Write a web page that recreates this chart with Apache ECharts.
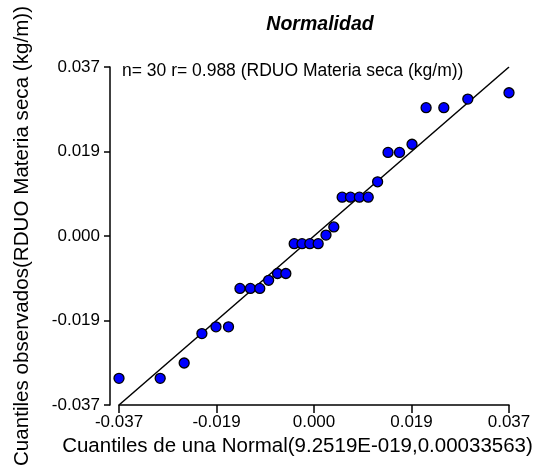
<!DOCTYPE html>
<html>
<head>
<meta charset="utf-8">
<script src="https://cdn.jsdelivr.net/npm/echarts@6/dist/echarts.min.js"></script>
<style>
  html, body { margin: 0; padding: 0; background: #fff; }
  #chart { width: 540px; height: 473px; }
</style>
</head>
<body>
<div id="chart"></div>
<script>
// Theoretical normal quantiles (x) and observed quantiles (y) of RDUO Materia seca
var theoretical = [-0.0374, -0.0295, -0.0249, -0.0215, -0.0188, -0.0164, -0.0142, -0.0122, -0.0104, -0.0087,
                   -0.0070, -0.0054, -0.0038, -0.0023, -0.0008, 0.0008, 0.0023, 0.0038, 0.0054, 0.0070,
                   0.0087, 0.0104, 0.0122, 0.0142, 0.0164, 0.0188, 0.0215, 0.0249, 0.0295, 0.0374];
var observed = [-0.0315, -0.0315, -0.0281, -0.0216, -0.0201, -0.0201, -0.0116, -0.0116, -0.0116, -0.0098,
                -0.0083, -0.0083, -0.0017, -0.0017, -0.0017, -0.0017, 0.0002, 0.0020, 0.0086, 0.0086,
                0.0086, 0.0086, 0.0120, 0.0185, 0.0185, 0.0203, 0.0284, 0.0284, 0.0303, 0.0317];
// Reference line y = x
var refLineX = [-0.0374, 0.0374];
var refLineY = [-0.0374, 0.0374];
// Axis range and tick labels
var axisMin = -0.0374, axisMax = 0.0374, axisStep = 0.0187;
var tickLabels = ['-0.037', '-0.019', '0.000', '0.019', '0.037'];

var font = 'Liberation Sans, Arial, sans-serif';
function tickFmt(v) {
  var i = Math.round((v - axisMin) / axisStep);
  return tickLabels[i] !== undefined ? tickLabels[i] : '';
}

var points = theoretical.map(function (x, i) { return [x, observed[i]]; });
var line = refLineX.map(function (x, i) { return [x, refLineY[i]]; });

var chart = echarts.init(document.getElementById('chart'), null, { renderer: 'canvas' });
chart.setOption({
  backgroundColor: '#ffffff',
  animation: false,
  title: [
    {
      text: 'Normalidad',
      left: 315, top: 10, textAlign: 'center',
      textStyle: { fontFamily: font, fontSize: 19.5, fontWeight: 'bold', fontStyle: 'italic', color: '#000' }
    },
    {
      text: 'n= 30 r= 0.988 (RDUO Materia seca (kg/m))',
      left: 117, top: 57,
      textStyle: { fontFamily: font, fontSize: 17.5, fontWeight: 'normal', color: '#000' }
    }
  ],
  grid: { left: 119, right: 31, top: 67, bottom: 68, containLabel: false },
  xAxis: {
    type: 'value',
    min: axisMin, max: axisMax, interval: axisStep,
    name: 'Cuantiles de una Normal(9.2519E-019,0.00033563)',
    nameLocation: 'middle', nameGap: 28,
    nameTextStyle: { fontFamily: font, fontSize: 20.5, color: '#000', padding: [0, 33, 0, 0] },
    axisLine: { show: true, onZero: false, lineStyle: { color: '#000', width: 1.5 } },
    axisTick: { show: true, length: 8, lineStyle: { color: '#000', width: 1.5 } },
    axisLabel: { formatter: tickFmt, fontFamily: font, fontSize: 17, color: '#000', margin: 9, showMinLabel: true, showMaxLabel: true },
    splitLine: { show: false }
  },
  yAxis: {
    type: 'value',
    min: axisMin, max: axisMax, interval: axisStep,
    offset: 9,
    name: 'Cuantiles observados(RDUO Materia seca (kg/m))',
    nameLocation: 'middle', nameGap: 77,
    nameTextStyle: { fontFamily: font, fontSize: 20.6, color: '#000' },
    axisLine: { show: true, onZero: false, lineStyle: { color: '#000', width: 1.5 } },
    axisTick: { show: true, length: 6, lineStyle: { color: '#000', width: 1.5 } },
    axisLabel: { formatter: tickFmt, fontFamily: font, fontSize: 17, color: '#000', margin: 10, showMinLabel: true, showMaxLabel: true },
    splitLine: { show: false }
  },
  series: [
    {
      type: 'line',
      data: line,
      symbol: 'none',
      lineStyle: { color: '#000', width: 1.5 },
      z: 2
    },
    {
      type: 'scatter',
      data: points,
      symbol: 'circle',
      symbolSize: 10,
      itemStyle: { color: '#0000ff', borderColor: '#000', borderWidth: 1.3, opacity: 1 },
      z: 3
    }
  ]
});
</script>
</body>
</html>
